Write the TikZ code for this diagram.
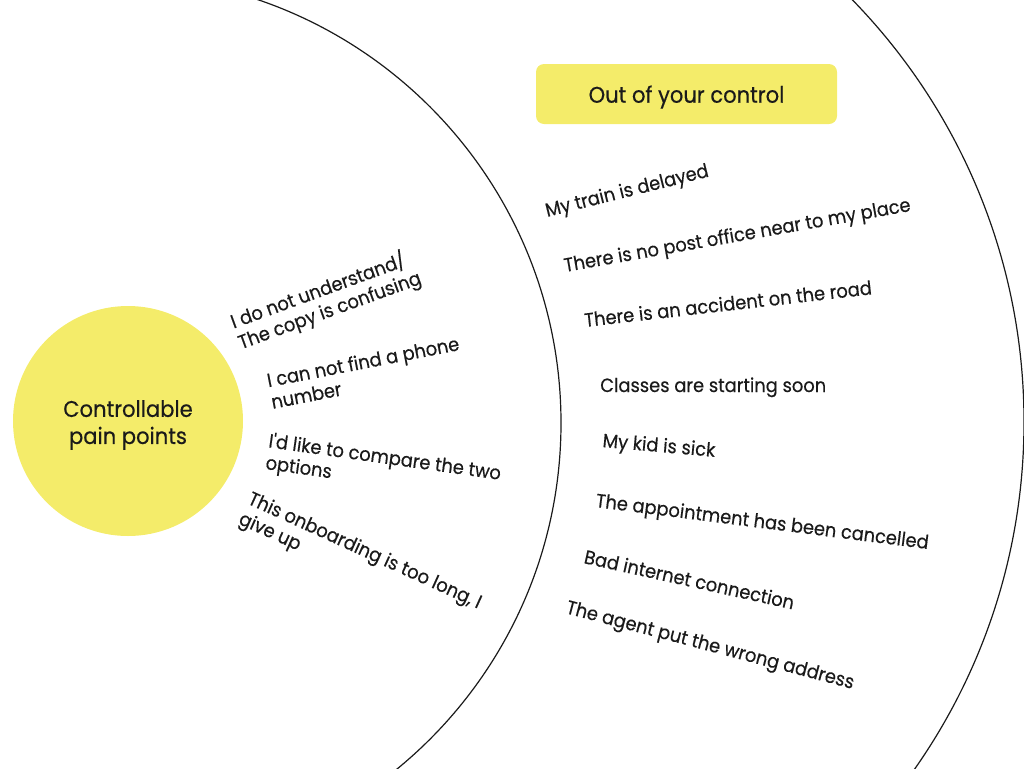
\documentclass[tikz,border=0pt]{standalone}
\usepackage{fontspec}
\setmainfont[FakeStretch=0.93,FakeBold=0.4,Ligatures=TeXOff]{Poppins}
\definecolor{pyellow}{HTML}{F4EC6A}
\definecolor{ink}{HTML}{1A1A1A}
\begin{document}
\begin{tikzpicture}[x=0.75pt,y=-0.75pt,
  arcline/.style={draw=ink,line width=0.9pt},
  item/.style={inner sep=0pt,text=ink,font=\fontsize{14.4}{16.5}\selectfont},
  mitem/.style={item,align=left,anchor=west},
  sitem/.style={item,anchor=base west}]
\useasboundingbox (0,0) rectangle (1024,768);
\begin{scope}
\clip (0,0) rectangle (1024,768);
\draw[arcline] (114,423) circle[radius=447];
\draw[arcline] (419,422) circle[radius=605];
\end{scope}
\node[circle,fill=pyellow,minimum size=172.5pt,inner sep=0pt] (ctrl) at (128,421) {};
\node[align=center,text=ink,inner sep=0pt,font=\fontsize{17}{20.3}\selectfont] (ctrltxt) at (128,425) {Controllable\\pain points};
\node[rectangle,rounded corners=6pt,fill=pyellow,minimum width=225.75pt,minimum height=45pt] (out) at (686.5,94) {};
\node[text=ink,inner sep=0pt,font=\fontsize{17}{20}\selectfont] (outtxt) at (686.5,97) {Out of your control};
% left items
\node[mitem,rotate=20] (l1) at (235,333) {I do not understand/\\The copy is confusing};
\node[mitem,rotate=11] (l2) at (269,391) {I can not find a phone\\number};
\node[mitem,rotate=-8] (l3) at (267,453) {I'd like to compare the two\\options};
\node[mitem,rotate=-24.5] (l4) at (244,509) {This onboarding is too long, I\\give up};
% right items
\node[sitem,rotate=14] (r1) at (547,217) {My train is delayed};
\node[sitem,rotate=10] (r2) at (565,272) {There is no post office near to my place};
\node[sitem,rotate=6.5] (r3) at (585,327) {There is an accident on the road};
\node[sitem,rotate=0] (r4) at (600,392) {Classes are starting soon};
\node[sitem,rotate=-5] (r5) at (602,447) {My kid is sick};
\node[sitem,rotate=-7.2] (r6) at (595,507) {The appointment has been cancelled};
\node[sitem,rotate=-12.5] (r7) at (583,563) {Bad internet connection};
\node[sitem,rotate=-14.8] (r8) at (565,613) {The agent put the wrong address};
\end{tikzpicture}
\end{document}
